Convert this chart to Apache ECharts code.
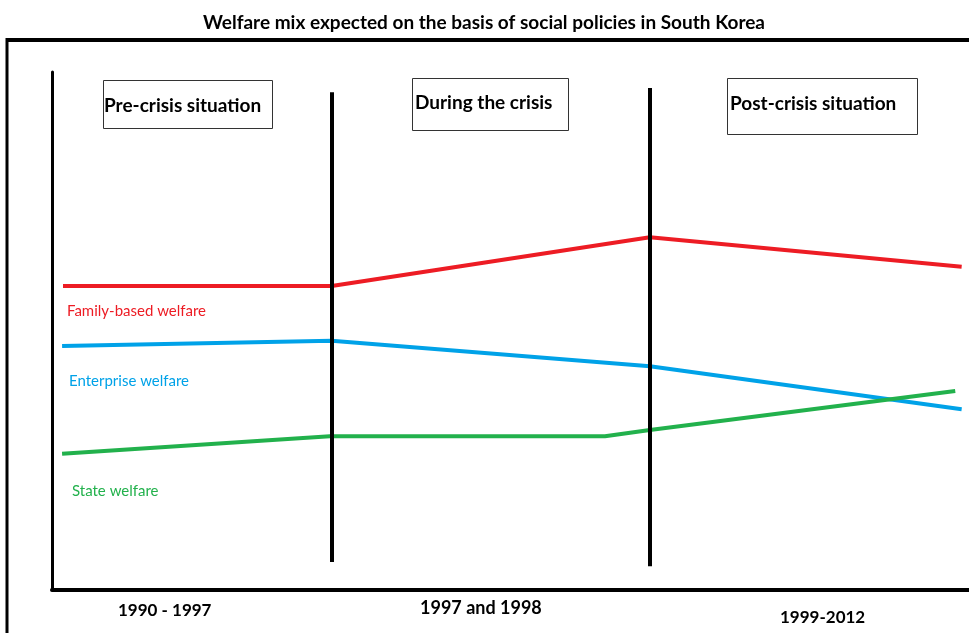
<!DOCTYPE html>
<html>
<head>
<meta charset="utf-8">
<script src="https://cdn.jsdelivr.net/npm/echarts@6/dist/echarts.min.js"></script>
<style>
  html, body { margin: 0; padding: 0; background: #fff; }
  #chartLineBox { width: 969px; height: 633px; }
</style>
</head>
<body>
<div id="chartLineBox"></div>
<script>
// schematic positions: x = time span (0-100), y = relative weight (0-100)
var familyX = [1.2, 30.5, 65.2, 99.2];
var familyY = [58.7, 58.7, 68.1, 62.4];
var enterpriseX = [1.1, 30.5, 65.2, 99.2];
var enterpriseY = [47.1, 48.1, 43.2, 34.9];
var stateX = [1.1, 30.3, 60.3, 65.2, 98.5];
var stateY = [26.3, 29.7, 29.7, 30.9, 38.4];

var seriesNames = ["Family-based welfare", "Enterprise welfare", "State welfare"];
var phaseNames = ["Pre-crisis situation", "During the crisis", "Post-crisis situation"];
var periodLabels = ["1990 - 1997", "1997 and 1998", "1999-2012"];
var dividerX = [30.5, 65.2];

var RED = "#ed1c24", BLUE = "#00a2e8", GREEN = "#22b14c";
var FONT = "Lato, 'Open Sans', sans-serif";

function pairs(xs, ys) {
  var out = [];
  for (var i = 0; i < xs.length; i++) out.push([xs[i], ys[i]]);
  return out;
}

var chartLine = echarts.init(document.getElementById("chartLineBox"));

var option = {
  animation: false,
  title: {
    text: "Welfare mix expected on the basis of social policies in South Korea",
    left: 198,
    top: 8,
    textStyle: { fontFamily: FONT, fontSize: 19, fontWeight: "bold", color: "#000" }
  },
  grid: { left: 52, right: 0, top: 72, bottom: 43 },
  xAxis: {
    type: "value", min: 0, max: 100,
    axisLine: { show: true, lineStyle: { color: "#000", width: 4 } },
    axisTick: { show: false }, axisLabel: { show: false }, splitLine: { show: false }
  },
  yAxis: {
    type: "value", min: 0, max: 100,
    axisLine: { show: true, lineStyle: { color: "#000", width: 3 } },
    axisTick: { show: false }, axisLabel: { show: false }, splitLine: { show: false }
  },
  series: [
    {
      name: seriesNames[0], type: "line", data: pairs(familyX, familyY),
      symbol: "none", lineStyle: { color: RED, width: 4 }, z: 3,
      markLine: {
        silent: true, symbol: "none",
        lineStyle: { color: "#000", width: 4, type: "solid" },
        label: { show: false },
        data: [
          [{ coord: [dividerX[0], 96.1] }, { coord: [dividerX[0], 5.4] }],
          [{ coord: [dividerX[1], 96.9] }, { coord: [dividerX[1], 4.6] }]
        ]
      }
    },
    {
      name: seriesNames[1], type: "line", data: pairs(enterpriseX, enterpriseY),
      symbol: "none", lineStyle: { color: BLUE, width: 4 }, z: 3
    },
    {
      name: seriesNames[2], type: "line", data: pairs(stateX, stateY),
      symbol: "none", lineStyle: { color: GREEN, width: 4 }, z: 3
    }
  ],
  graphic: [
    // outer frame
    { type: "line", shape: { x1: 7, y1: 40, x2: 969, y2: 40 }, style: { stroke: "#000", lineWidth: 4 } },
    { type: "line", shape: { x1: 7, y1: 38, x2: 7, y2: 633 }, style: { stroke: "#000", lineWidth: 3 } },
    // phase boxes
    { type: "rect", shape: { x: 103.5, y: 80.5, width: 169, height: 48 }, style: { fill: "#fff", stroke: "#333", lineWidth: 1 } },
    { type: "text", x: 104, y: 106, style: { text: phaseNames[0], font: "bold 19px " + FONT, fill: "#000", verticalAlign: "middle" } },
    { type: "rect", shape: { x: 412.5, y: 78.5, width: 156, height: 52 }, style: { fill: "#fff", stroke: "#333", lineWidth: 1 } },
    { type: "text", x: 415, y: 103, style: { text: phaseNames[1], font: "bold 19px " + FONT, fill: "#000", verticalAlign: "middle" } },
    { type: "rect", shape: { x: 727.5, y: 78.5, width: 190, height: 56 }, style: { fill: "#fff", stroke: "#333", lineWidth: 1 } },
    { type: "text", x: 730, y: 104, style: { text: phaseNames[2], font: "bold 19px " + FONT, fill: "#000", verticalAlign: "middle" } },
    // series labels
    { type: "text", x: 67, y: 311, style: { text: seriesNames[0], font: "15px " + FONT, fill: RED, verticalAlign: "middle" } },
    { type: "text", x: 69, y: 381, style: { text: seriesNames[1], font: "15px " + FONT, fill: BLUE, verticalAlign: "middle" } },
    { type: "text", x: 72, y: 491, style: { text: seriesNames[2], font: "15px " + FONT, fill: GREEN, verticalAlign: "middle" } },
    // period labels
    { type: "text", x: 118, y: 611, style: { text: periodLabels[0], font: "bold 17px " + FONT, fill: "#000", verticalAlign: "middle" } },
    { type: "text", x: 420, y: 608, style: { text: periodLabels[1], font: "bold 18px " + FONT, fill: "#000", verticalAlign: "middle" } },
    { type: "text", x: 780, y: 618, style: { text: periodLabels[2], font: "bold 17px " + FONT, fill: "#000", verticalAlign: "middle" } }
  ]
};

chartLine.setOption(option);
</script>
</body>
</html>
